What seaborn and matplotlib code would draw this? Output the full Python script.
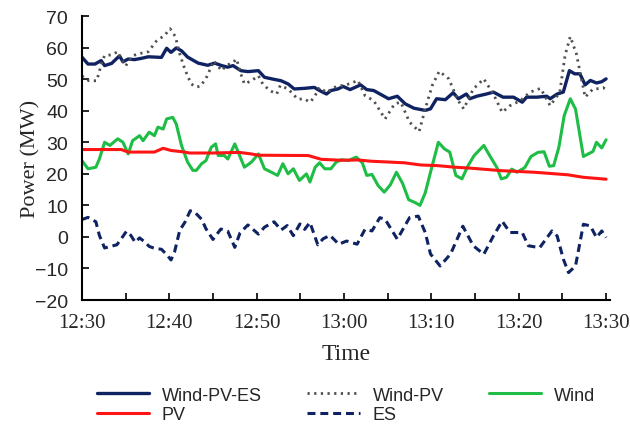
import matplotlib
matplotlib.use("Agg")
import matplotlib.pyplot as plt
import seaborn as sns
import numpy as np

# ---------------- data (minutes after 12:30, MW) ----------------
wpe_t = [0, 0.7, 1.5, 2.2, 2.6, 3.4, 4.3, 4.7, 5.3, 6, 6.8, 7.6, 9.1, 9.7, 10.2, 10.8, 11.4, 12.1,
         13.3, 14.4, 15.2, 16, 16.7, 17.3, 18.2, 19, 20.2, 20.9, 21.9, 22.8, 23.6, 24.3, 25.5, 26.6,
         27.2, 28, 28.5, 29.3, 29.9, 30.7, 31.9, 32.6, 33.4, 35.1, 36.1, 37, 38, 39.3, 39.9, 40.6,
         41.6, 42.5, 43.1, 44, 44.4, 45.2, 46.3, 47.1, 48.2, 49.4, 50.4, 50.9, 52.1, 53.2, 53.6,
         54.4, 55.1, 55.8, 56.4, 57, 57.6, 58.2, 58.9, 59.5, 60]
wpe_v = [57.0, 54.8, 54.8, 55.9, 54.3, 55.0, 57.4, 55.5, 56.4, 56.2, 56.6, 57.1, 56.9, 59.8, 58.5,
         59.9, 59.0, 57.0, 55.1, 54.4, 55.1, 54.3, 53.8, 54.3, 52.7, 52.4, 52.7, 50.6, 50.0, 49.5,
         48.5, 46.9, 47.1, 47.4, 46.4, 45.3, 46.4, 46.9, 47.7, 46.7, 48.2, 46.7, 46.4, 43.8, 44.6,
         42.2, 40.8, 40.1, 40.6, 43.8, 43.5, 45.7, 43.8, 45.3, 43.8, 44.6, 45.3, 45.9, 44.3, 44.3,
         42.7, 44.3, 44.3, 44.6, 43.8, 45.3, 45.9, 52.7, 51.7, 51.7, 48.2, 49.6, 48.8, 49.2, 50.1]

wp_t = [0, 0.8, 1.7, 2.3, 2.6, 3.4, 4.1, 4.5, 5.0, 5.8, 6.4, 7.6, 8.5, 9.5, 10.1, 10.7, 11.2, 11.8,
        12.5, 13.1, 13.6, 14.3, 15.1, 16.0, 16.5, 17.3, 17.7, 18.2, 18.6, 19.4, 20.2, 20.7, 21.5,
        22.3, 22.7, 23.6, 24.7, 25.5, 26.1, 26.6, 27.2, 28, 28.9, 29.6, 30.6, 31.6, 32.4, 33.4,
        34.7, 35.8, 36.5, 37.5, 38.6, 39.3, 40.1, 40.9, 42.0, 43.0, 43.7, 44.8, 46, 47.1, 48.1,
        49, 50.2, 51.3, 52.5, 53.6, 54.7, 55.3, 55.9, 56.6, 57.6, 58.5, 59.7, 60]
wp_v = [51.0, 49.5, 49.5, 55.5, 57.5, 57.7, 58.7, 56.5, 54.2, 57.4, 58.0, 58.7, 62.0, 64.0, 66.0,
        63.5, 58.0, 53.0, 48.5, 47.5, 47.8, 50.8, 55.8, 52.7, 54.3, 55.3, 56.4, 51.6, 48.5, 49.5,
        51.1, 48.5, 46.4, 45.3, 48.0, 46.9, 43.7, 43.7, 42.7, 44.3, 47.4, 45.8, 47.4, 47.9, 48.5,
        49.6, 44.8, 43.2, 37.4, 42.2, 42.7, 36.4, 33.4, 40.6, 48.0, 52.5, 50.1, 43.5, 40.6, 46.9,
        50.1, 45.3, 39.5, 41.6, 43.2, 45.9, 47.1, 41.6, 45.9, 57.5, 63.5, 58.0, 44.3, 46.9, 47.1,
        48.5]

wind_t = [0, 0.7, 1.6, 2.0, 2.6, 3.2, 4.1, 4.7, 5.3, 5.8, 6.6, 7.0, 7.7, 8.3, 8.7, 9.3, 9.7, 10.4,
          10.8, 11.4, 12.1, 12.7, 13.1, 13.7, 14.2, 14.8, 15.3, 15.6, 16.3, 16.7, 17.5, 17.9, 18.6,
          19.4, 20.2, 20.9, 21.7, 22.4, 23, 23.6, 24.2, 24.9, 25.7, 26.1, 26.7, 27.2, 27.8, 28.5,
          29.1, 29.7, 30.5, 31.4, 32.1, 32.6, 33.2, 33.9, 34.6, 35.3, 36.0, 36.7, 37.4, 38.2,
          38.7, 39.3, 39.9, 40.8, 41.5, 42.1, 42.8, 43.5, 44.2, 44.9, 46.0, 46.8, 47.5, 48.0,
          48.6, 49.2, 49.8, 50.7, 51.4, 52.2, 52.9, 53.5, 54.0, 54.6, 55.2, 55.9, 56.5, 57.4,
          58.5, 58.9, 59.5, 60]
wind_v = [24.2, 21.6, 22.1, 24.7, 30.0, 29.0, 31.1, 30.0, 26.3, 30.5, 32.1, 30.5, 33.2, 32.1, 34.8,
          34.2, 37.4, 37.9, 35.8, 29.0, 23.7, 21.1, 21.1, 23.2, 24.2, 28.4, 29.5, 25.8, 25.8, 24.7,
          29.5, 26.8, 22.1, 23.7, 26.3, 21.6, 20.5, 19.5, 23.2, 20.0, 21.6, 17.9, 20.0, 17.4, 22.1,
          23.5, 21.6, 21.6, 23.7, 24.5, 24.2, 25.3, 23.5, 19.5, 19.8, 16.3, 14.2, 16.5, 20.5, 17.0,
          11.8, 10.8, 10.0, 14.0, 20.5, 30.0, 27.9, 26.9, 19.5, 18.4, 22.6, 25.8, 29.0, 25.2, 22.0,
          18.4, 18.9, 21.5, 20.5, 22.0, 25.5, 26.8, 27.0, 22.4, 22.6, 28.5, 38.4, 43.8, 40.5, 25.5,
          27.1, 30.0, 28.2, 30.8]

pv_t = [0, 4.5, 5.3, 8.3, 9.3, 10.2, 11.8, 12.3, 15, 18, 19.4, 20.2, 25.9, 27.4, 29.7, 31.6, 33.1,
        36.9, 38.8, 40.7, 42.7, 44.5, 48, 51.8, 55.6, 57.4, 60]
pv_v = [27.7, 27.7, 26.9, 26.9, 28.1, 27.4, 26.9, 26.6, 26.6, 26.8, 26.3, 25.9, 25.8, 24.6, 24.3,
        24.4, 24.0, 23.5, 22.8, 22.6, 22.1, 21.8, 21.0, 20.5, 19.7, 18.9, 18.3]

es_t = [0, 0.7, 1.6, 2.0, 2.6, 3.4, 4.0, 4.5, 5.1, 5.6, 6.1, 6.6, 7.2, 7.7, 8.4, 9.1, 9.7, 10.2,
        10.6, 11.2, 11.8, 12.4, 12.9, 13.7, 14.2, 15, 15.9, 16.7, 17.5, 18.1, 19, 20.2, 20.9, 22.0,
        22.8, 23.5, 24.2, 24.95, 25.5, 26.1, 27.0, 27.6, 28.4, 29.4, 30.3, 31.5, 32.4, 33.2, 34.1,
        34.7, 36.1, 37.5, 38.5, 39.3, 39.9, 41.0, 42.2, 43.6, 44.8, 46, 47.1, 48.1, 49, 50.4, 51.1,
        52.4, 53.8, 54.4, 55.1, 55.7, 56.5, 57.4, 58.2, 58.9, 59.5, 60]
es_v = [5.5, 6.2, 4.8, 0.5, -3.5, -2.9, -2.5, -0.6, 1.8, 0.5, -1.7, -0.3, -1.6, -3.0, -3.7, -3.9,
        -5.6, -7.3, -4.8, 2.1, 4.7, 8.3, 7.9, 5.6, 2.6, -0.8, 2.5, 1.8, -3.3, 1.3, 3.8, 0.9, 3.1,
        4.8, 2.2, 3.6, 0.4, 4.1, 2.4, 4.6, -2.5, -0.6, 0.5, -2.3, -1.3, -2.3, 2.4, 1.9, 6.1, 5.6,
        -0.7, 6.1, 6.6, 1.4, -5.4, -9.2, -5.4, 3.4, -2.8, -5.5, 0.3, 5.0, 1.4, 1.4, -2.8, -3.4, 1.9,
        0.3, -7.0, -11.3, -9.2, 4.0, 3.5, -0.2, 1.9, -0.2]

tick_minutes = [0, 10, 20, 30, 40, 50, 60]
tick_labels = ["12:30", "12:40", "12:50", "13:00", "13:10", "13:20", "13:30"]
y_ticks = [-20, -10, 0, 10, 20, 30, 40, 50, 60, 70]

# ---------------- style ----------------
sns.set_style("ticks")
plt.rcParams["font.family"] = ["Liberation Serif", "DejaVu Serif"]
plt.rcParams["xtick.direction"] = "in"
plt.rcParams["ytick.direction"] = "in"

fig = plt.figure(figsize=(6.3, 4.27), dpi=100)
ax = fig.add_axes([0.130, 0.295, 0.839, 0.665])

navy = "#0f2363"
sns.lineplot(x=wpe_t, y=wpe_v, ax=ax, color=navy, lw=2.4, label="Wind-PV-ES", estimator=None, sort=False)
sns.lineplot(x=wp_t, y=wp_v, ax=ax, color="#505050", lw=2.0, label="Wind-PV", estimator=None, sort=False,
             linestyle=(0, (0.8, 1.6)))
sns.lineplot(x=wind_t, y=wind_v, ax=ax, color="#1ebd45", lw=2.2, label="Wind", estimator=None, sort=False)
sns.lineplot(x=pv_t, y=pv_v, ax=ax, color="#ff1414", lw=2.2, label="PV", estimator=None, sort=False)
sns.lineplot(x=es_t, y=es_v, ax=ax, color=navy, lw=2.2, label="ES", estimator=None, sort=False,
             linestyle=(0, (2.6, 1.6)))

ax.set_xlim(0, 60.5)
ax.set_ylim(-20, 70)
ax.set_yticks(y_ticks)
ax.set_xticks(tick_minutes)
ax.set_xticklabels(tick_labels)
ax.set_xticks([5, 15, 25, 35, 45, 55], minor=True)
ax.tick_params(axis="both", which="both", length=5, width=1.2, color="black")
ax.tick_params(axis="x", labelsize=15, pad=9)
ax.tick_params(axis="y", labelsize=14, pad=10)
for lab in ax.get_yticklabels():
    lab.set_family(["Liberation Sans", "DejaVu Sans"])
for s in ["top", "right"]:
    ax.spines[s].set_visible(False)
for s in ["left", "bottom"]:
    ax.spines[s].set_linewidth(1.5)
    ax.spines[s].set_color("black")

ax.set_xlabel("Time", fontsize=17, labelpad=8)
ax.set_ylabel("Power (MW)", fontsize=16, labelpad=-4)

handles, labels = ax.get_legend_handles_labels()
ax.get_legend().remove()
order = [0, 3, 1, 4, 2]
fig.legend([handles[i] for i in order], [labels[i] for i in order],
           loc="upper center", bbox_to_anchor=(0.5495, 0.13), ncol=3, frameon=False,
           prop={"family": ["Liberation Sans", "DejaVu Sans"], "size": 13},
           handlelength=2.9, handletextpad=0.7, columnspacing=2.52, labelspacing=0.15)

fig.savefig("out.png", dpi=100)
